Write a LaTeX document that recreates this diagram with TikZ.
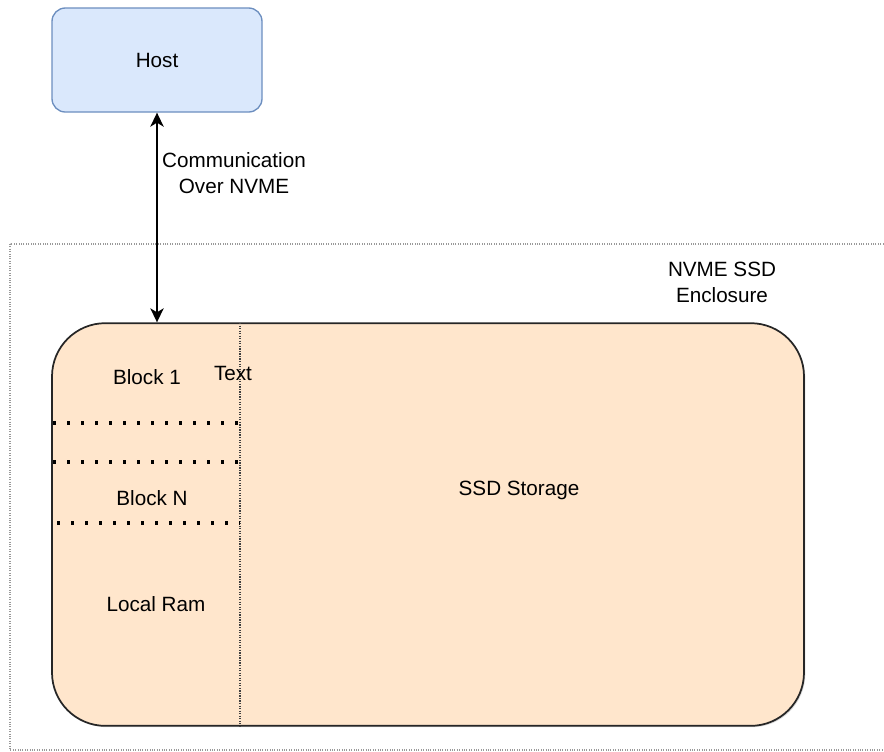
\documentclass[tikz,border=0pt]{standalone}
\usepackage{fontspec}
\setmainfont{Liberation Sans}
\usetikzlibrary{arrows.meta, shadows}
\definecolor{hostfill}{HTML}{DAE8FC}
\definecolor{hostdraw}{HTML}{6C8EBF}
\definecolor{ssdfill}{HTML}{FFE6CC}
\tikzstyle{hostbox} = [rectangle, rounded corners=10pt, minimum width=157.5pt, minimum height=78pt, text centered, draw=hostdraw, line width=1pt, fill=hostfill]
\tikzstyle{ssdbox} = [rectangle, rounded corners=40pt, minimum width=564pt, minimum height=302pt, draw=black!85, line width=1.3pt, fill=ssdfill, drop shadow={opacity=0.3, shadow xshift=1pt, shadow yshift=-1pt}]
\tikzstyle{txt} = [inner sep=0pt, align=center]
\tikzstyle{enclosure} = [densely dotted, draw=gray!80, line width=0.8pt]
\tikzstyle{ramsplit} = [densely dotted, draw=black!75, line width=0.9pt]
\tikzstyle{blocksep} = [line width=2.4pt, dash pattern=on 2.4pt off 8.1pt]
\tikzstyle{arrow} = [line width=1.2pt, {Stealth[length=10.5pt, width=10pt, inset=3pt]}-{Stealth[length=10.5pt, width=10pt, inset=3pt]}]

\begin{document}
\begin{tikzpicture}[x=0.75pt, y=-0.75pt, font=\fontsize{15.5}{19.5}\selectfont]
\useasboundingbox (0,0) rectangle (884,751);

% Enclosure, open on the right
\draw [enclosure] (10,244) rectangle (920,750);
\node (E) [txt] at (722,282) {NVME SSD\\Enclosure};

% Host
\node (H) [hostbox] at (157,60) {\raisebox{-1.5pt}{Host}};

% SSD
\node (SSD) [ssdbox] at (428,524.5) {};
\node (St) [txt] at (519,490) {SSD Storage};

% Local ram column
\draw [ramsplit] (240,323) -- (240,726);
\draw [blocksep] (53,423) -- (238,423);
\draw [blocksep] (53,462) -- (238,462);
\draw [blocksep] (57,523) -- (240,523);
\node (B1) [txt] at (147,377) {Block 1};
\node (T) [txt] at (233,373) {Text};
\node (BN) [txt] at (152,498) {Block N};
\node (R) [txt] at (156,604) {Local Ram};

% Link
\draw [arrow] (H.south) -- (H.south |- SSD.north);
\node (C) [txt] at (234,173) {Communication\\Over NVME};

\end{tikzpicture}
\end{document}
